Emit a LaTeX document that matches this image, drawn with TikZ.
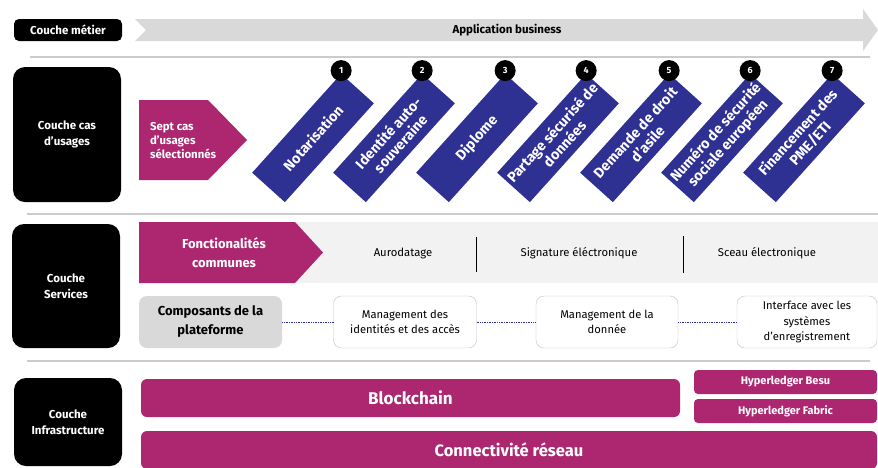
\documentclass[tikz,border=0pt]{standalone}
\usepackage{fontspec}
\setmainfont{Fira Sans}
\usetikzlibrary{positioning}
\definecolor{prune}{HTML}{AC2770}
\definecolor{indigo}{HTML}{2E3192}
\definecolor{grisfond}{HTML}{F2F2F2}
\definecolor{grisfleche}{HTML}{D9D9D9}
\tikzset{
	couche/.style={fill=black, text=white, rounded corners=12pt, align=center, font=\bfseries\fontsize{11.5}{16}\selectfont},
	casusage/.style={fill=indigo, text=white, rotate=48, minimum width=133pt, minimum height=44pt, inner sep=1pt, align=center, font=\bfseries\fontsize{14.3}{16.5}\selectfont},
	numero/.style={circle, fill=black, text=white, minimum size=21pt, inner sep=0pt, font=\bfseries\fontsize{9}{10}\selectfont},
	fonction/.style={font=\fontsize{11.3}{13}\selectfont},
	composant/.style={draw=black!25, fill=white, rounded corners=8pt, minimum width=143pt, minimum height=52pt, align=center, inner sep=2pt, font=\fontsize{11.2}{15.5}\selectfont},
	socle/.style={fill=prune, text=white, rounded corners=6pt, font=\bfseries\fontsize{17}{20}\selectfont},
	separe/.style={draw=black!20, line width=1.5pt},
	pointille/.style={draw=indigo, densely dotted, line width=0.7pt}
}
\begin{document}
\begin{tikzpicture}[x=1pt,y=-1pt]
		%%%%% START %%%%%
		\useasboundingbox (0,0) rectangle (878,467);
		
		% couche metier
		\node[couche, rounded corners=5pt, minimum width=108pt, minimum height=22pt] (metier) at (68,30) {Couche métier};
		\fill[grisfleche] (135,19) -- (863,19) -- (863,9) -- (878,30) -- (863,51) -- (863,41) -- (135,41) -- (146,30) -- cycle;
		\node[font=\bfseries\fontsize{11.5}{13}\selectfont] (appli) at (507,30) {Application business};
		
		\draw[separe] (30,57) -- (870,57);
		
		% couche cas d'usages
		\node[couche, minimum width=108pt, minimum height=135pt] (cas) at (67,134.5) {Couche cas\\d’usages};
		\fill[prune] (139,100) -- (208,100) -- (247,140) -- (208,180) -- (139,180) -- cycle;
		\node[anchor=west, text=white, align=left, font=\bfseries\fontsize{11.4}{14}\selectfont] (sept) at (146.5,141) {Sept cas\\d’usages\\sélectionnés};
		
		\node[casusage] (uc1) at (313,138) {Notarisation};
		\node[casusage] (uc2) at (394,138) {Identité auto-\\souveraine};
		\node[casusage] (uc3) at (477,138) {Diplome};
		\node[casusage] (uc4) at (558,138) {Partage sécurisé de\\données};
		\node[casusage] (uc5) at (641,138) {Demande de droit\\d’asile};
		\node[casusage] (uc6) at (722,138) {Numéro de sécurité\\sociale européen};
		\node[casusage] (uc7) at (804,138) {Financement des\\PME/ETI};
		
		\node[numero, yshift=3pt] (n1) at (uc1.north east) {1};
		\node[numero, yshift=3pt] (n2) at (uc2.north east) {2};
		\node[numero, yshift=3pt] (n3) at (uc3.north east) {3};
		\node[numero, yshift=3pt] (n4) at (uc4.north east) {4};
		\node[numero, yshift=3pt] (n5) at (uc5.north east) {5};
		\node[numero, yshift=3pt] (n6) at (uc6.north east) {6};
		\node[numero, yshift=3pt] (n7) at (uc7.north east) {7};
		
		\draw[separe] (27,214) -- (878,214);
		
		% couche services
		\node[couche, minimum width=108pt, minimum height=124pt] (services) at (66,286) {Couche\\Services};
		\fill[grisfond] (139,222) rectangle (878,283);
		\fill[prune] (139,222) -- (295,222) -- (323,252.5) -- (295,283) -- (139,283) -- cycle;
		\node[text=white, align=center, font=\bfseries\fontsize{13}{19}\selectfont] (fonct) at (224,253) {Fonctionalités\\communes};
		\node[fonction] (horo) at (403,253) {Aurodatage};
		\node[fonction] (signe) at (579,253) {Signature éléctronique};
		\node[fonction] (sceau) at (767,253) {Sceau électronique};
		\draw[line width=1pt] (476,237) -- (476,272);
		\draw[line width=1pt] (683,236) -- (683,273);
		
		\node[composant, fill=grisfleche, draw=none, font=\bfseries\fontsize{13}{19}\selectfont] (compo) at (210.5,322) {Composants de la\\plateforme};
		\node[composant] (identites) at (405,322) {Management des\\identités et des accès};
		\node[composant, minimum width=142pt] (donnee) at (607,322) {Management de la\\donnée};
		\node[composant, minimum width=140pt] (interface) at (807,322) {Interface avec les\\systèmes\\d’enregistrement};
		\draw[pointille] (compo) -- (identites);
		\draw[pointille] (identites) -- (donnee);
		\draw[pointille] (donnee) -- (interface);
		
		\draw[separe] (27,361) -- (870,361);
		
		% couche infrastructure
		\node[couche, minimum width=108pt, minimum height=88pt] (infra) at (68,422) {Couche\\Infrastructure};
		\node[socle, minimum width=539pt, minimum height=38pt] (blockchain) at (410.5,398) {Blockchain};
		\node[socle, rounded corners=4pt, minimum width=183pt, minimum height=24pt, font=\bfseries\fontsize{11}{12}\selectfont] (besu) at (785.5,382) {Hyperledger Besu};
		\node[socle, rounded corners=4pt, minimum width=183pt, minimum height=24pt, font=\bfseries\fontsize{11}{12}\selectfont] (fabric) at (785.5,411) {Hyperledger Fabric};
		\node[socle, minimum width=736pt, minimum height=38pt, font=\bfseries\fontsize{16.5}{20}\selectfont] (reseau) at (509,450) {Connectivité réseau};
		
		%%%%% END %%%%%
	\end{tikzpicture}
\end{document}
